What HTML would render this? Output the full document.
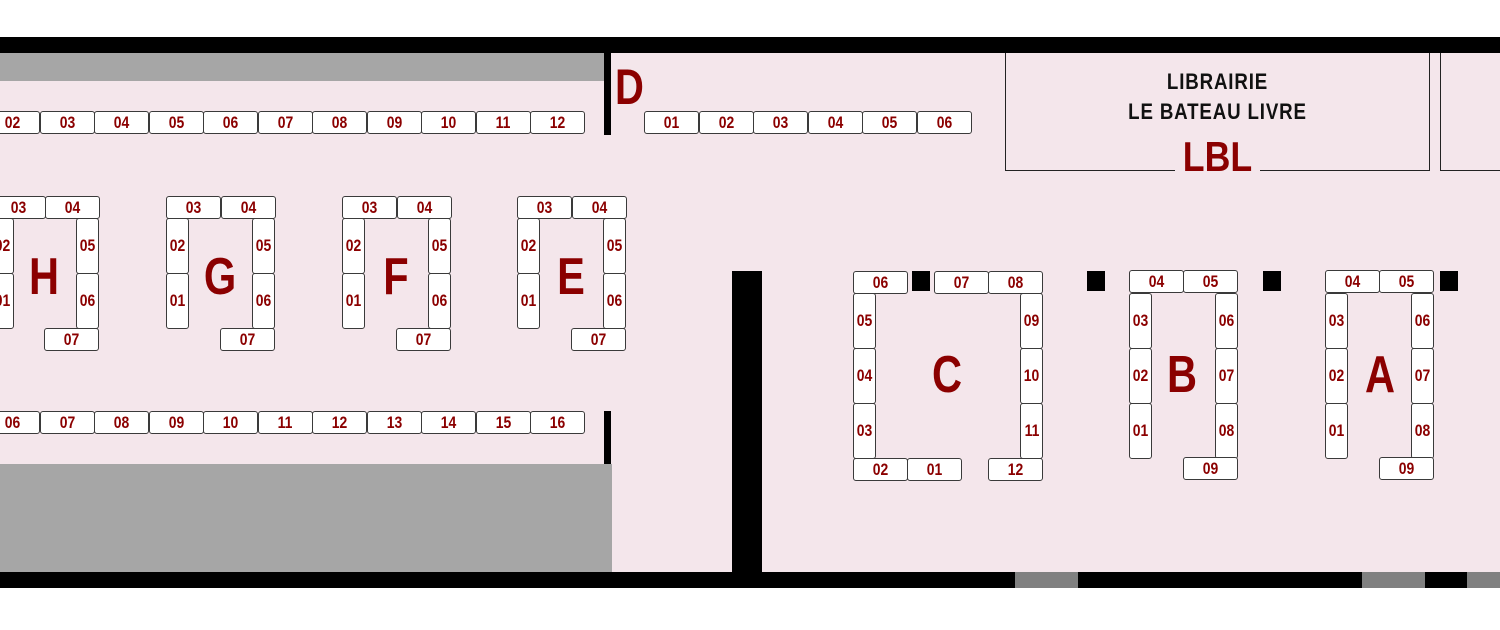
<!DOCTYPE html>
<html><head><meta charset="utf-8"><style>
body{margin:0;width:1500px;height:630px;background:#fff;position:relative;overflow:hidden;font-family:"Liberation Sans",sans-serif}
div{position:absolute;box-sizing:border-box}
.k{background:#000}
.g{background:#a6a6a6}
.b{background:#fff;border:1px solid #3a3a3a;border-radius:3px;color:#8b0000;font-weight:bold;font-size:17px;display:flex;align-items:center;justify-content:center;width:55px;height:23px}
.b span{display:inline-block;transform:scaleX(.82)}
.v{width:23px;height:56px}
.L{color:#8b0000;font-weight:bold;font-size:52px;line-height:1;text-align:center;width:60px;transform:scaleX(.8)}
.sq{background:#000;width:18px;height:20px;top:271px}
</style></head><body>
<div style="left:0;top:53px;width:1500px;height:519px;background:#f4e6eb"></div>
<div class="k" style="left:0;top:37px;width:1500px;height:16px"></div>
<div class="k" style="left:0;top:572px;width:1500px;height:16px"></div>
<div style="left:1015px;top:572px;width:63px;height:16px;background:#808080"></div>
<div style="left:1362px;top:572px;width:63px;height:16px;background:#808080"></div>
<div style="left:1467px;top:572px;width:33px;height:16px;background:#808080"></div>
<div class="g" style="left:0;top:53px;width:605px;height:28px"></div>
<div class="g" style="left:0;top:464px;width:612px;height:108px"></div>
<div class="k" style="left:604px;top:53px;width:7px;height:82px"></div>
<div class="k" style="left:604px;top:411px;width:7px;height:53px"></div>
<div class="k" style="left:732px;top:271px;width:30px;height:317px"></div>

<div style="left:1005px;top:53px;width:425px;height:118px;border:1.5px solid #222;border-top:none"></div>
<div style="left:1175px;top:160px;width:85px;height:14px;background:#f4e6eb"></div>
<div style="left:1005px;top:67px;width:425px;text-align:center;font-weight:bold;font-size:22px;line-height:30px;color:#111;letter-spacing:1px;transform:scaleX(.85)">LIBRAIRIE<br>LE BATEAU LIVRE</div>
<div style="left:1005px;top:135px;width:425px;text-align:center;font-weight:bold;font-size:42px;line-height:44px;color:#8b0000;transform:scaleX(.85)">LBL</div>
<div style="left:1440px;top:53px;width:70px;height:118px;border:1.5px solid #222;border-top:none"></div>

<div class="L" style="left:607px;top:62px;width:45px;font-size:50px">D</div>

<!-- top row -->
<div class="b" style="left:-15px;top:111px"><span>02</span></div>
<div class="b" style="left:39.5px;top:111px"><span>03</span></div>
<div class="b" style="left:94px;top:111px"><span>04</span></div>
<div class="b" style="left:148.5px;top:111px"><span>05</span></div>
<div class="b" style="left:203px;top:111px"><span>06</span></div>
<div class="b" style="left:257.5px;top:111px"><span>07</span></div>
<div class="b" style="left:312px;top:111px"><span>08</span></div>
<div class="b" style="left:366.5px;top:111px"><span>09</span></div>
<div class="b" style="left:421px;top:111px"><span>10</span></div>
<div class="b" style="left:475.5px;top:111px"><span>11</span></div>
<div class="b" style="left:530px;top:111px"><span>12</span></div>
<!-- D row -->
<div class="b" style="left:644px;top:111px"><span>01</span></div>
<div class="b" style="left:698.6px;top:111px"><span>02</span></div>
<div class="b" style="left:753.2px;top:111px"><span>03</span></div>
<div class="b" style="left:807.8px;top:111px"><span>04</span></div>
<div class="b" style="left:862.4px;top:111px"><span>05</span></div>
<div class="b" style="left:917px;top:111px"><span>06</span></div>
<!-- bottom row -->
<div class="b" style="left:-15px;top:411px"><span>06</span></div>
<div class="b" style="left:39.5px;top:411px"><span>07</span></div>
<div class="b" style="left:94px;top:411px"><span>08</span></div>
<div class="b" style="left:148.5px;top:411px"><span>09</span></div>
<div class="b" style="left:203px;top:411px"><span>10</span></div>
<div class="b" style="left:257.5px;top:411px"><span>11</span></div>
<div class="b" style="left:312px;top:411px"><span>12</span></div>
<div class="b" style="left:366.5px;top:411px"><span>13</span></div>
<div class="b" style="left:421px;top:411px"><span>14</span></div>
<div class="b" style="left:475.5px;top:411px"><span>15</span></div>
<div class="b" style="left:530px;top:411px"><span>16</span></div>

<!-- H -->
<div class="b" style="left:-9px;top:196px"><span>03</span></div>
<div class="b" style="left:45px;top:196px"><span>04</span></div>
<div class="b v" style="left:-9px;top:218px"><span>02</span></div>
<div class="b v" style="left:-9px;top:273px"><span>01</span></div>
<div class="b v" style="left:76px;top:218px"><span>05</span></div>
<div class="b v" style="left:76px;top:273px"><span>06</span></div>
<div class="b" style="left:44px;top:328px"><span>07</span></div>
<div class="L" style="left:14px;top:251px">H</div>
<!-- G -->
<div class="b" style="left:166px;top:196px"><span>03</span></div>
<div class="b" style="left:221px;top:196px"><span>04</span></div>
<div class="b v" style="left:166px;top:218px"><span>02</span></div>
<div class="b v" style="left:166px;top:273px"><span>01</span></div>
<div class="b v" style="left:252px;top:218px"><span>05</span></div>
<div class="b v" style="left:252px;top:273px"><span>06</span></div>
<div class="b" style="left:220px;top:328px"><span>07</span></div>
<div class="L" style="left:190px;top:251px">G</div>
<!-- F -->
<div class="b" style="left:342px;top:196px"><span>03</span></div>
<div class="b" style="left:397px;top:196px"><span>04</span></div>
<div class="b v" style="left:342px;top:218px"><span>02</span></div>
<div class="b v" style="left:342px;top:273px"><span>01</span></div>
<div class="b v" style="left:428px;top:218px"><span>05</span></div>
<div class="b v" style="left:428px;top:273px"><span>06</span></div>
<div class="b" style="left:396px;top:328px"><span>07</span></div>
<div class="L" style="left:366px;top:251px">F</div>
<!-- E -->
<div class="b" style="left:517px;top:196px"><span>03</span></div>
<div class="b" style="left:572px;top:196px"><span>04</span></div>
<div class="b v" style="left:517px;top:218px"><span>02</span></div>
<div class="b v" style="left:517px;top:273px"><span>01</span></div>
<div class="b v" style="left:603px;top:218px"><span>05</span></div>
<div class="b v" style="left:603px;top:273px"><span>06</span></div>
<div class="b" style="left:571px;top:328px"><span>07</span></div>
<div class="L" style="left:541px;top:251px">E</div>

<!-- C -->
<div class="b" style="left:853px;top:271px"><span>06</span></div>
<div class="sq" style="left:912px"></div>
<div class="b" style="left:934px;top:271px"><span>07</span></div>
<div class="b" style="left:988px;top:271px"><span>08</span></div>
<div class="b v" style="left:853px;top:293px"><span>05</span></div>
<div class="b v" style="left:853px;top:348px"><span>04</span></div>
<div class="b v" style="left:853px;top:403px"><span>03</span></div>
<div class="b" style="left:853px;top:458px"><span>02</span></div>
<div class="b" style="left:907px;top:458px"><span>01</span></div>
<div class="b v" style="left:1020px;top:293px"><span>09</span></div>
<div class="b v" style="left:1020px;top:348px"><span>10</span></div>
<div class="b v" style="left:1020px;top:403px"><span>11</span></div>
<div class="b" style="left:988px;top:458px"><span>12</span></div>
<div class="L" style="left:917px;top:349px">C</div>
<div class="sq" style="left:1087px"></div>
<div class="sq" style="left:1263px"></div>
<div class="sq" style="left:1440px"></div>
<!-- B -->
<div class="b" style="left:1129px;top:270px"><span>04</span></div>
<div class="b" style="left:1183px;top:270px"><span>05</span></div>
<div class="b v" style="left:1129px;top:293px"><span>03</span></div>
<div class="b v" style="left:1129px;top:348px"><span>02</span></div>
<div class="b v" style="left:1129px;top:403px"><span>01</span></div>
<div class="b v" style="left:1215px;top:293px"><span>06</span></div>
<div class="b v" style="left:1215px;top:348px"><span>07</span></div>
<div class="b v" style="left:1215px;top:403px"><span>08</span></div>
<div class="b" style="left:1183px;top:457px"><span>09</span></div>
<div class="L" style="left:1152px;top:349px">B</div>
<!-- A -->
<div class="b" style="left:1325px;top:270px"><span>04</span></div>
<div class="b" style="left:1379px;top:270px"><span>05</span></div>
<div class="b v" style="left:1325px;top:293px"><span>03</span></div>
<div class="b v" style="left:1325px;top:348px"><span>02</span></div>
<div class="b v" style="left:1325px;top:403px"><span>01</span></div>
<div class="b v" style="left:1411px;top:293px"><span>06</span></div>
<div class="b v" style="left:1411px;top:348px"><span>07</span></div>
<div class="b v" style="left:1411px;top:403px"><span>08</span></div>
<div class="b" style="left:1379px;top:457px"><span>09</span></div>
<div class="L" style="left:1350px;top:349px">A</div>
</body></html>
